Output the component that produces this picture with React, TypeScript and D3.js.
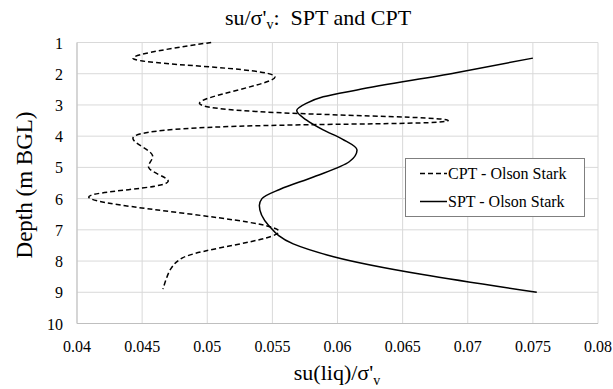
import React from "react";
import * as d3 from "d3";

const W = 613;
const H = 389;

const xTicks = [0.04, 0.045, 0.05, 0.055, 0.06, 0.065, 0.07, 0.075, 0.08];
const yTicks = [1, 2, 3, 4, 5, 6, 7, 8, 9, 10];

// CPT - Olson Stark (value, depth)
const cptValues = [0.0503, 0.0443, 0.0552, 0.0494, 0.0685, 0.0443, 0.0458, 0.0455, 0.047, 0.0409, 0.0555, 0.0481, 0.0472, 0.0466];
const cptDepths = [1.0, 1.5, 2.1, 2.95, 3.5, 4.05, 4.62, 5.0, 5.45, 5.95, 7.05, 7.9, 8.25, 8.9];

// SPT - Olson Stark (value, depth)
const sptValues = [0.075, 0.0691, 0.0615, 0.0589, 0.0576, 0.05687, 0.0576, 0.0589, 0.0604, 0.0615, 0.0609, 0.0582, 0.0556, 0.0542, 0.054, 0.0547, 0.0566, 0.0597, 0.0753];
const sptDepths = [1.5, 1.97, 2.52, 2.74, 2.95, 3.18, 3.48, 3.8, 4.1, 4.44, 4.82, 5.3, 5.7, 6.0, 6.22, 6.85, 7.45, 7.86, 9.0];

const FONT = "'Liberation Serif', 'Times New Roman', serif";

export default function App() {
  const x = d3.scaleLinear().domain([0.04, 0.08]).range([77, 598]);
  const y = d3.scaleLinear().domain([1, 10]).range([42.5, 323.5]);

  const cptLine = d3
    .line<[number, number]>()
    .x((d) => x(d[0]))
    .y((d) => y(d[1]))
    .curve(d3.curveCatmullRom.alpha(0.5));

  const sptLine = d3
    .line<[number, number]>()
    .x((d) => x(d[0]))
    .y((d) => y(d[1]))
    .curve(d3.curveMonotoneY);

  const cpt = cptValues.map((v, i) => [v, cptDepths[i]] as [number, number]);
  const spt = sptValues.map((v, i) => [v, sptDepths[i]] as [number, number]);

  const grid = "#d9d9d9";

  return (
    <svg
      width={W}
      height={H}
      style={{ position: "absolute", left: 0, top: 0, background: "#fff" }}
      fontFamily={FONT}
    >
      <rect x={0} y={0} width={W} height={H} fill="#fff" />
      {/* gridlines */}
      {xTicks.map((t) => (
        <line key={"gx" + t} x1={x(t)} x2={x(t)} y1={y(1)} y2={y(10)} stroke={grid} strokeWidth={1} />
      ))}
      {yTicks.map((t) => (
        <line key={"gy" + t} x1={x(0.04)} x2={x(0.08)} y1={y(t)} y2={y(t)} stroke={grid} strokeWidth={1} />
      ))}
      {/* axes */}
      <line x1={x(0.04)} x2={x(0.04)} y1={y(1)} y2={y(10)} stroke="#bfbfbf" strokeWidth={1} />
      <line x1={x(0.04)} x2={x(0.08)} y1={y(10)} y2={y(10)} stroke="#bfbfbf" strokeWidth={1} />

      {/* tick labels */}
      {xTicks.map((t) => (
        <text key={"tx" + t} x={x(t)} y={352} textAnchor="middle" fontSize={16} fill="#000">
          {String(t)}
        </text>
      ))}
      {yTicks.map((t) => (
        <text key={"ty" + t} x={63} y={y(t) + 6} textAnchor="end" fontSize={16} fill="#000">
          {t}
        </text>
      ))}

      {/* series */}
      <path d={cptLine(cpt) || ""} fill="none" stroke="#000" strokeWidth={1.5} strokeDasharray="5,3" />
      <path d={sptLine(spt) || ""} fill="none" stroke="#000" strokeWidth={1.5} />

      {/* title */}
      <text x={318} y={25} textAnchor="middle" fontSize={22} fill="#000">
        su/σ'<tspan fontSize={14} dy={4}>v</tspan>
        <tspan dy={-4}>:{"\u00A0\u00A0"}SPT and CPT</tspan>
      </text>

      {/* axis titles */}
      <text x={337} y={380} textAnchor="middle" fontSize={22} fill="#000">
        su(liq)/σ'<tspan fontSize={14} dy={5}>v</tspan>
      </text>
      <text
        transform={`translate(32,${185}) rotate(-90)`}
        textAnchor="middle"
        fontSize={23}
        fill="#000"
      >
        Depth (m BGL)
      </text>

      {/* legend */}
      <rect x={405.5} y={158.5} width={179} height={58} fill="#fff" stroke="#7f7f7f" strokeWidth={1} />
      <line x1={420} x2={447} y1={173.5} y2={173.5} stroke="#000" strokeWidth={1.5} strokeDasharray="5,3" />
      <text x={448} y={179} fontSize={16} fill="#000">
        CPT - Olson Stark
      </text>
      <line x1={420} x2={447} y1={201.5} y2={201.5} stroke="#000" strokeWidth={1.5} />
      <text x={448} y={207} fontSize={16} fill="#000">
        SPT - Olson Stark
      </text>
    </svg>
  );
}
